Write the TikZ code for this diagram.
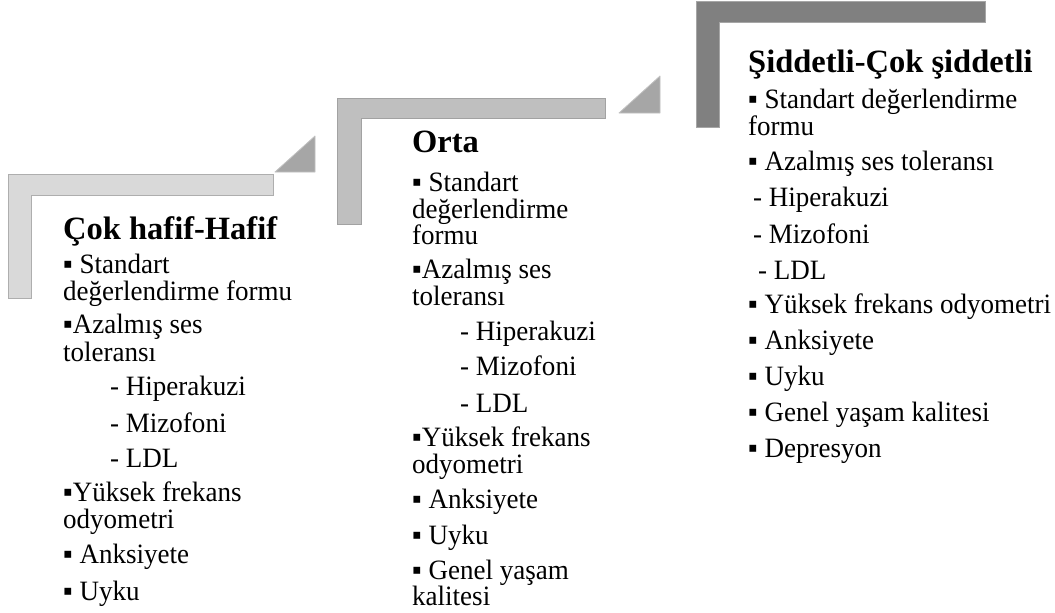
\documentclass[tikz,border=0pt]{standalone}
\usepackage{fontspec}
\setmainfont{Liberation Serif}
\newfontfamily\tallserif[FakeStretch=0.965]{Liberation Serif}
\usepackage{xcolor}
\usepackage{tikz}
\usetikzlibrary{positioning}
\definecolor{stepA}{HTML}{D9D9D9}
\definecolor{stepB}{HTML}{BFBFBF}
\definecolor{stepC}{HTML}{808080}
\definecolor{triC}{HTML}{A6A6A6}
\tikzset{
  bar/.style={line width=0.8pt, line join=miter},
  tri/.style={fill=triC, draw=triC!70, line width=0.8pt},
  head/.style={anchor=base west, inner sep=0pt, font=\fontsize{32.5}{36}\selectfont\bfseries},
  item/.style={anchor=base west, inner sep=0pt, font=\tallserif\fontsize{28}{30}\selectfont},
  every picture/.style={line cap=round, line join=round}
}

\begin{document}
\begin{tikzpicture}[x=1pt, y=-1pt]
  \useasboundingbox (0,0) rectangle (1055,613);
  % steps
  \draw[bar, fill=stepA, draw=stepA!80!black] (8,174) -- (273,174) -- (273,195) -- (31,195) -- (31,298) -- (8,298) -- cycle;
  \draw[bar, fill=stepB, draw=stepB!85!black] (337,98) -- (605,98) -- (605,118) -- (361,118) -- (361,224) -- (337,224) -- cycle;
  \draw[bar, fill=stepC, draw=stepC!70!white] (696,1) -- (985,1) -- (985,22) -- (719,22) -- (719,127) -- (696,127) -- cycle;
  \draw[tri] (275,172) -- (315,172) -- (315,136) -- cycle;
  \draw[tri] (619,113) -- (660,113) -- (660,76) -- cycle;

  % column 1
  \node[head] (h1) at (63,239) {Çok hafif-Hafif};
  \node[item] (a1) at (63,273) {▪ Standart};
  \node[item] (a1b) at (63,300) {değerlendirme formu};
  \node[item] (b1) at (63,333) {▪Azalmış ses};
  \node[item] (b1b) at (63,361) {toleransı};
  \node[item] (c1) at (110,395) {- Hiperakuzi};
  \node[item] (d1) at (110,432) {- Mizofoni};
  \node[item] (e1) at (110,467) {- LDL};
  \node[item] (f1) at (63,501) {▪Yüksek frekans};
  \node[item] (f1b) at (63,528) {odyometri};
  \node[item] (g1) at (63,563) {▪ Anksiyete};
  \node[item] (k1) at (63,600) {▪ Uyku};

  % column 2
  \node[head] (h2) at (412,152) {Orta};
  \node[item] (a2) at (412,191) {▪ Standart};
  \node[item] (a2b) at (412,218) {değerlendirme};
  \node[item] (a2c) at (412,244) {formu};
  \node[item] (b2) at (412,278) {▪Azalmış ses};
  \node[item] (b2b) at (412,305) {toleransı};
  \node[item] (c2) at (460,340) {- Hiperakuzi};
  \node[item] (d2) at (460,375) {- Mizofoni};
  \node[item] (e2) at (460,412) {- LDL};
  \node[item] (f2) at (412,446) {▪Yüksek frekans};
  \node[item] (f2b) at (412,473) {odyometri};
  \node[item] (g2) at (412,508) {▪ Anksiyete};
  \node[item] (k2) at (412,544) {▪ Uyku};
  \node[item] (m2) at (412,579) {▪ Genel yaşam};
  \node[item] (m2b) at (412,605) {kalitesi};

  % column 3
  \node[head] (h3) at (748,72) {Şiddetli-Çok şiddetli};
  \node[item] (a3) at (748,108) {▪ Standart değerlendirme};
  \node[item] (a3b) at (748,135) {formu};
  \node[item] (b3) at (748,170) {▪ Azalmış ses toleransı};
  \node[item] (c3) at (753,206) {- Hiperakuzi};
  \node[item] (d3) at (753,243) {- Mizofoni};
  \node[item] (e3) at (758,279) {- LDL};
  \node[item] (f3) at (748,313) {▪ Yüksek frekans odyometri};
  \node[item] (g3) at (748,349) {▪ Anksiyete};
  \node[item] (k3) at (748,385) {▪ Uyku};
  \node[item] (m3) at (748,421) {▪ Genel yaşam kalitesi};
  \node[item] (n3) at (748,457) {▪ Depresyon};
\end{tikzpicture}
\end{document}
